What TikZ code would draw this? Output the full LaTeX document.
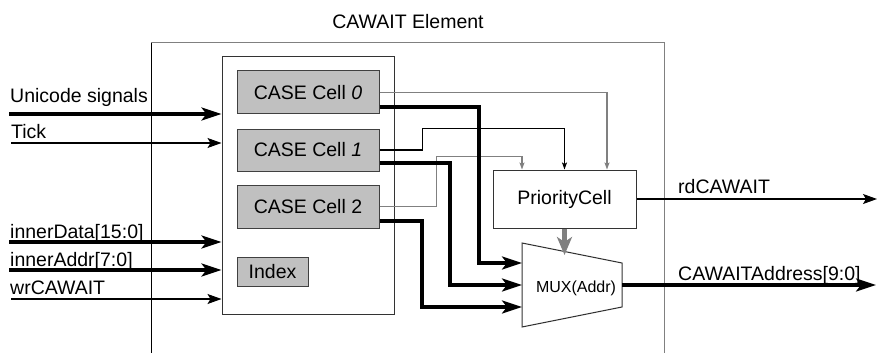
\documentclass[tikz,border=0pt]{standalone}
\usepackage{fontspec}
\setmainfont{Liberation Sans}
\usetikzlibrary{arrows.meta,calc}

\definecolor{cellgray}{HTML}{C0C0C0}
\definecolor{wiregray}{HTML}{808080}

\tikzset{
  txt/.style={font=\fontsize{19.5}{22}\selectfont, inner sep=0pt},
  cellbox/.style={txt, draw=black!75, fill=cellgray, line width=1pt},
  plainbox/.style={txt, draw=black!80, fill=white, line width=1pt},
  thinwire/.style={line width=1.1pt, -{Stealth[length=14pt,width=10pt,inset=3pt]}},
  thickwire/.style={line width=3.3pt, -{Stealth[length=20pt,width=13pt,inset=5pt]}},
  smallwire/.style={line width=1.1pt, -{Stealth[length=7pt,width=5pt,inset=1.5pt]}},
}

\begin{document}
\begin{tikzpicture}[x=1pt,y=-1pt]
\useasboundingbox (0,0) rectangle (879,353);

% element frame, open at the bottom
\node[txt] (title) at (408,22) {CAWAIT Element};
\draw[line width=1pt, black] (151,353) -- (151,43);
\draw[line width=1pt, wiregray] (151,43) -- (664,43) -- (664,353);

% register block with its cells
\node[plainbox, minimum width=172pt, minimum height=257pt] (inner) at (308,185.5) {};
\node[cellbox, minimum width=142pt, minimum height=43pt] (c0) at (308,92.5) {CASE Cell \textit{0}};
\node[cellbox, minimum width=142pt, minimum height=42pt] (c1) at (308,150) {CASE Cell \textit{1}};
\node[cellbox, minimum width=142pt, minimum height=43pt] (c2) at (308,206.5) {CASE Cell 2};
\node[cellbox, minimum width=71pt, minimum height=29pt] (idx) at (272.5,271.5) {Index};

% priority logic
\node[plainbox, minimum width=143pt, minimum height=58pt] (pc) at (564.5,199) {PriorityCell};

% address multiplexer
\coordinate (mtl) at (522,243);
\coordinate (mbl) at (522,327);
\coordinate (mtr) at (622,263);
\coordinate (mbr) at (622,307);
\draw[line width=1pt, black!80, fill=white] (mtl) -- (mtr) -- (mbr) -- (mbl) -- cycle;
\node[inner sep=0pt, font=\fontsize{16}{18}\selectfont] (mux) at (576,288) {MUX(Addr)};
\coordinate (m1) at (522,263);
\coordinate (m2) at (522,285);
\coordinate (m3) at (522,307);
\coordinate (mo) at (622,285);

% external inputs
\coordinate (uIn) at (9,114);
\coordinate (tIn) at (11,143);
\coordinate (dIn) at (9,242);
\coordinate (aIn) at (9,270);
\coordinate (wIn) at (11,299);
\node[txt, anchor=west] (lu) at (10,97) {Unicode signals};
\node[txt, anchor=west] (lt) at (11,132) {Tick};
\node[txt, anchor=west] (ld) at (10,233) {innerData[15:0]};
\node[txt, anchor=west] (la) at (10,261) {innerAddr[7:0]};
\node[txt, anchor=west] (lw) at (10,288) {wrCAWAIT};

\draw[thickwire] (uIn) -- (uIn -| inner.west);
\draw[thinwire] (tIn) -- (tIn -| inner.west);
\draw[thickwire] (dIn) -- (dIn -| inner.west);
\draw[thickwire] (aIn) -- (aIn -| inner.west);
\draw[thinwire] (wIn) -- (wIn -| inner.west);

% cell flags to the priority cell
\draw[smallwire, draw=wiregray] (c0.east) -| ([xshift=42.5pt]pc.north);
\draw[smallwire] (c1.east) -- ++(43,0) |- ([yshift=41pt]pc.north) -- (pc.north);
\draw[smallwire, draw=wiregray] (c2.east) -- ++(57,0) |- ([xshift=-42.5pt,yshift=13pt]pc.north) -- ([xshift=-42.5pt]pc.north);

% cell addresses to the multiplexer
\draw[thickwire] ([yshift=-14.5pt]c0.east) -| ([xshift=-43pt]m1) -- (m1);
\draw[thickwire] ([yshift=-13pt]c1.east) -| ([xshift=-72pt]m2) -- (m2);
\draw[thickwire] ([yshift=-14.5pt]c2.east) -| ([xshift=-100pt]m3) -- (m3);

% select line
\draw[line width=4.5pt, wiregray, -{Stealth[length=18pt,width=15pt,inset=5pt]}] (pc.south) -- (564.5,255);

% outputs
\coordinate (rdOut) at (877,199);
\coordinate (adOut) at (876,285);
\draw[thinwire] (pc.east) -- (rdOut);
\draw[thickwire] (mo) -- (adOut);
\node[txt, anchor=west] (lrd) at (678,187) {rdCAWAIT};
\node[txt, anchor=west] (lad) at (678,275) {CAWAITAddress[9:0]};
\end{tikzpicture}
\end{document}
